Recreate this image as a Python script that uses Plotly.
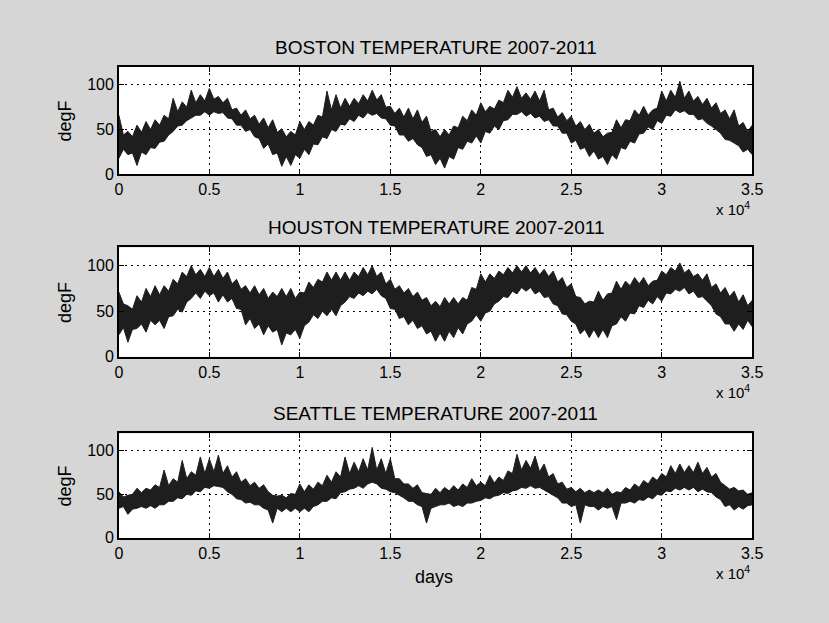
import plotly.graph_objects as go

# readings are taken every 500 hours at the spike tops / bottoms ("peak")
# and half-way between them at the edge of the dense core ("mid")
hours_peak = [i * 500 for i in range(71)]
hours_mid = [250 + i * 500 for i in range(70)]

boston_hi_peak = [66, 48, 55, 59, 61, 66, 85, 81, 94, 89, 96, 87, 85, 74, 72, 66, 63, 61, 51, 48,
                  59, 59, 66, 93, 89, 85, 85, 89, 94, 89, 76, 74, 74, 72, 65, 50, 50, 54, 65, 72,
                  80, 76, 83, 94, 98, 91, 93, 94, 74, 69, 65, 59, 56, 50, 46, 61, 61, 72, 76, 72,
                  93, 94, 104, 93, 87, 85, 80, 72, 72, 58, 55]
boston_hi_mid = [44, 42, 47, 50, 55, 62, 70, 75, 80, 82, 84, 80, 72, 66, 62, 56, 52, 47, 42, 44,
                 50, 55, 64, 72, 74, 76, 79, 82, 83, 75, 68, 64, 62, 58, 48, 42, 44, 52, 60, 66,
                 70, 73, 80, 86, 85, 84, 82, 72, 64, 60, 54, 50, 46, 42, 47, 52, 60, 66, 66, 74,
                 82, 86, 85, 82, 78, 74, 68, 62, 54, 48]
boston_lo_peak = [18, 22, 10, 22, 29, 37, 48, 55, 63, 66, 66, 68, 63, 55, 48, 42, 29, 22, 9, 10,
                  18, 22, 33, 40, 48, 55, 59, 63, 66, 63, 55, 44, 37, 33, 20, 11, 7, 17, 28, 35,
                  35, 46, 50, 61, 67, 65, 63, 59, 54, 46, 35, 28, 20, 17, 11, 17, 28, 35, 46, 50,
                  57, 65, 69, 67, 61, 57, 50, 39, 35, 25, 22]
boston_lo_mid = [28, 24, 25, 30, 36, 44, 54, 60, 66, 70, 70, 69, 62, 55, 50, 40, 34, 24, 20, 22,
                 28, 34, 42, 50, 56, 62, 66, 69, 68, 62, 54, 44, 40, 30, 22, 18, 20, 30, 37, 43,
                 48, 54, 60, 67, 70, 68, 65, 61, 54, 46, 38, 30, 26, 20, 22, 30, 37, 45, 53, 60,
                 66, 72, 71, 67, 62, 54, 46, 38, 32, 28]

houston_hi_peak = [71, 56, 67, 75, 78, 78, 85, 93, 100, 96, 98, 96, 93, 85, 78, 78, 75, 71, 75, 75,
                   71, 82, 85, 93, 93, 93, 93, 98, 100, 93, 85, 78, 75, 71, 65, 61, 65, 65, 65, 76,
                   91, 91, 94, 98, 100, 100, 98, 96, 94, 87, 80, 65, 61, 72, 69, 83, 83, 87, 87, 83,
                   94, 98, 103, 96, 91, 91, 80, 76, 72, 68, 62]
houston_hi_mid = [58, 52, 60, 66, 68, 72, 80, 88, 90, 88, 88, 86, 80, 74, 70, 68, 64, 66, 66, 64,
                  70, 76, 82, 84, 84, 84, 88, 90, 88, 80, 74, 70, 66, 62, 56, 55, 58, 58, 62, 74,
                  82, 86, 90, 92, 93, 92, 90, 88, 82, 76, 66, 58, 60, 62, 70, 74, 78, 80, 78, 84,
                  90, 94, 92, 88, 84, 76, 70, 66, 60, 56]
houston_lo_peak = [24, 16, 31, 27, 35, 31, 45, 49, 64, 64, 67, 60, 60, 53, 35, 31, 24, 27, 13, 24,
                   20, 38, 42, 45, 45, 60, 64, 67, 69, 67, 53, 42, 35, 31, 25, 17, 17, 21, 25, 39,
                   39, 50, 61, 65, 69, 72, 69, 65, 58, 47, 39, 25, 21, 21, 21, 36, 39, 47, 54, 58,
                   61, 69, 72, 69, 65, 61, 47, 36, 28, 30, 33]
houston_lo_mid = [32, 30, 36, 40, 40, 44, 52, 60, 70, 72, 70, 68, 64, 52, 42, 36, 34, 30, 26, 30,
                  34, 46, 50, 52, 56, 66, 70, 72, 74, 64, 52, 44, 40, 34, 28, 26, 28, 32, 36, 46,
                  48, 58, 66, 72, 76, 76, 72, 66, 56, 46, 36, 30, 30, 30, 34, 44, 48, 56, 62, 66,
                  70, 74, 76, 72, 66, 56, 44, 36, 36, 40]

seattle_hi_peak = [53, 49, 57, 57, 61, 78, 68, 89, 76, 93, 91, 95, 83, 76, 68, 64, 61, 49, 49, 51,
                   62, 61, 64, 72, 76, 93, 87, 91, 104, 91, 91, 68, 62, 61, 51, 57, 58, 60, 62, 68,
                   64, 72, 70, 77, 96, 89, 94, 85, 74, 64, 58, 57, 55, 55, 57, 53, 58, 62, 66, 70,
                   74, 83, 85, 83, 87, 81, 74, 60, 58, 55, 52]
seattle_hi_mid = [47, 50, 52, 55, 58, 60, 64, 68, 72, 74, 76, 74, 70, 64, 60, 57, 53, 48, 46, 50,
                  53, 56, 60, 64, 70, 74, 76, 78, 78, 74, 68, 62, 57, 52, 50, 52, 54, 55, 58, 60,
                  60, 63, 66, 74, 78, 80, 76, 70, 62, 56, 53, 52, 52, 52, 50, 52, 55, 58, 62, 66,
                  70, 74, 75, 75, 74, 70, 64, 56, 54, 50]
seattle_lo_peak = [34, 27, 34, 34, 34, 38, 42, 45, 49, 53, 57, 59, 53, 45, 40, 38, 34, 17, 30, 30,
                   30, 30, 38, 42, 45, 53, 57, 57, 64, 57, 53, 49, 42, 38, 17, 36, 38, 36, 36, 40,
                   43, 45, 49, 51, 55, 57, 57, 55, 49, 40, 36, 17, 36, 32, 34, 21, 40, 40, 43, 45,
                   49, 53, 55, 55, 53, 53, 47, 36, 32, 33, 38]
seattle_lo_mid = [36, 33, 36, 37, 38, 42, 46, 50, 54, 58, 60, 58, 50, 44, 41, 38, 32, 34, 34, 34,
                  34, 36, 42, 46, 52, 56, 60, 62, 62, 56, 52, 46, 42, 36, 34, 38, 40, 38, 40, 42,
                  46, 48, 52, 54, 58, 60, 58, 52, 46, 40, 38, 38, 36, 36, 36, 40, 42, 44, 47, 50,
                  54, 57, 58, 58, 56, 52, 44, 38, 36, 37]

cities = ["BOSTON", "HOUSTON", "SEATTLE"]
series = [
    (boston_lo_peak, boston_lo_mid, boston_hi_peak, boston_hi_mid),
    (houston_lo_peak, houston_lo_mid, houston_hi_peak, houston_hi_mid),
    (seattle_lo_peak, seattle_lo_mid, seattle_hi_peak, seattle_hi_mid),
]

x_ticks = [0, 5000, 10000, 15000, 20000, 25000, 30000, 35000]
x_tick_text = ["0", "0.5", "1", "1.5", "2", "2.5", "3", "3.5"]
y_ticks = [0, 50, 100]

FONT = "Liberation Sans, Arial, sans-serif"
INK = "#1e1e1e"


def merge(peak, mid):
    # put both reading sets in time order
    pts = sorted(list(zip(hours_peak, peak)) + list(zip(hours_mid, mid)))
    return [p[0] for p in pts], [p[1] for p in pts]


# plot boxes in paper fractions (bottom, top)
domains = [(0.716, 0.891), (0.419, 0.597), (0.124, 0.294)]
x_dom = [117 / 829, 762 / 829]

fig = go.Figure()
layout = dict(
    width=829, height=623,
    margin=dict(l=0, r=0, t=0, b=0),
    paper_bgcolor="#d6d6d6",
    plot_bgcolor="white",
    showlegend=False,
    font=dict(family=FONT, color="black", size=16),
    annotations=[],
)

for i, city in enumerate(cities):
    n = "" if i == 0 else str(i + 1)
    xa, ya = "x" + n, "y" + n
    lo_peak, lo_mid, hi_peak, hi_mid = series[i]
    x_lo, y_lo = merge(lo_peak, lo_mid)
    x_hi, y_hi = merge(hi_peak, hi_mid)
    fig.add_trace(go.Scatter(x=x_lo, y=y_lo, mode="lines", xaxis=xa, yaxis=ya,
                             line=dict(color=INK, width=1), hoverinfo="skip"))
    fig.add_trace(go.Scatter(x=x_hi, y=y_hi, mode="lines", xaxis=xa, yaxis=ya,
                             fill="tonexty", fillcolor=INK,
                             line=dict(color=INK, width=1), hoverinfo="skip"))

    axis_common = dict(showline=True, linecolor="black", linewidth=1.5, mirror="ticks",
                       ticks="inside", ticklen=5, tickcolor="black",
                       showgrid=True, gridcolor="black", gridwidth=1, griddash="2px,4px",
                       zeroline=False, tickfont=dict(size=16, family=FONT))
    layout["xaxis" + n] = dict(axis_common, domain=x_dom, range=[0, 35000],
                               tickvals=x_ticks, ticktext=x_tick_text, anchor=ya)
    layout["yaxis" + n] = dict(axis_common, domain=list(domains[i]), range=[0, 120],
                               tickvals=y_ticks, anchor=xa)

    top_px = (1 - domains[i][1]) * 623
    bot_px = (1 - domains[i][0]) * 623
    # subplot title
    layout["annotations"].append(dict(
        text=city + " TEMPERATURE 2007-2011", xref="paper", yref="paper",
        x=(x_dom[0] + x_dom[1]) / 2, y=1 - (top_px - 20) / 623,
        showarrow=False, font=dict(size=19), xanchor="center", yanchor="middle"))
    # y label
    layout["annotations"].append(dict(
        text="degF", xref="paper", yref="paper", textangle=-90,
        x=62 / 829, y=1 - ((top_px + bot_px) / 2) / 623,
        showarrow=False, font=dict(size=18), xanchor="center", yanchor="middle"))
    # exponent label
    layout["annotations"].append(dict(
        text="x 10<sup>4</sup>", xref="paper", yref="paper",
        x=762 / 829, y=1 - (bot_px + 35) / 623,
        showarrow=False, font=dict(size=15), xanchor="right", yanchor="middle"))

layout["annotations"].append(dict(
    text="days", xref="paper", yref="paper", x=438 / 829, y=1 - 585 / 623,
    showarrow=False, font=dict(size=18), xanchor="center", yanchor="middle"))

fig.update_layout(**layout)

# let the figure fill the window exactly
page_fix = ("document.documentElement.style.margin='0px';"
            "document.body.style.margin='0px';"
            "document.documentElement.style.overflow='hidden';"
            "document.body.style.overflow='hidden';")
fig.write_html("out.html", post_script=page_fix, config={"displayModeBar": False})
